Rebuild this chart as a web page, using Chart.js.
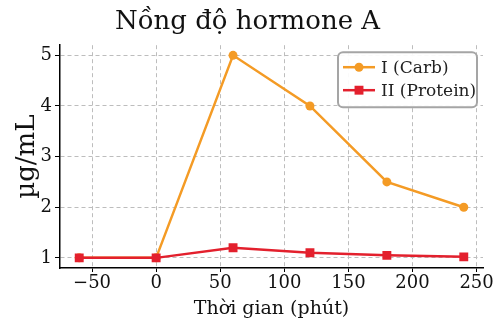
<!DOCTYPE html>
<html>
<head>
<meta charset="utf-8">
<script src="https://cdn.jsdelivr.net/npm/chart.js@4.4.1/dist/chart.umd.min.js"></script>
<style>
  html, body { margin: 0; padding: 0; background: #fff; }
  #wrap { width: 500px; height: 333px; }
</style>
</head>
<body>
<div id="wrap"><canvas id="grafico"></canvas></div>
<script>
// dados
const tempos = [-60, 0, 60, 120, 180, 240];
const carb = [1.0, 1.0, 5.0, 4.0, 2.5, 2.0];
const protein = [1.0, 1.0, 1.2, 1.1, 1.05, 1.02];
const xTicks = [-50, 0, 50, 100, 150, 200, 250];
const yTicks = [1, 2, 3, 4, 5];
const nomes = ['I (Carb)', 'II (Protein)'];
const titulo = 'Nồng độ hormone A';
const tituloX = 'Thời gian (phút)';
const tituloY = 'µg/mL';

const fonte = '"DejaVu Serif", "Liberation Serif", serif';
const laranja = '#f49b25';
const vermelho = '#e3202d';

function pontos(valores){
    let data = [];
    for(let i = 0; i < tempos.length; i++){
        data.push({x: tempos[i], y: valores[i]});
    }
    return data;
}

// legenda desenhada a mao (linha + marcador, como no original)
const legendaBox = {
    id: 'legendaBox',
    afterDraw(chart){
        const ctx = chart.ctx;
        const area = chart.chartArea;
        const w = 139, h = 55;
        const x = area.right - w - 6;
        const y = area.top + 7;
        ctx.save();
        ctx.beginPath();
        ctx.roundRect(x, y, w, h, 5);
        ctx.fillStyle = 'rgba(255,255,255,0.92)';
        ctx.fill();
        ctx.lineWidth = 2;
        ctx.strokeStyle = '#a5a5a5';
        ctx.stroke();
        chart.data.datasets.forEach((ds, i) => {
            const cy = y + 15 + i * 23;
            ctx.beginPath();
            ctx.moveTo(x + 5, cy);
            ctx.lineTo(x + 37, cy);
            ctx.strokeStyle = ds.borderColor;
            ctx.lineWidth = ds.borderWidth;
            ctx.stroke();
            ctx.fillStyle = ds.borderColor;
            Chart.helpers.drawPoint(ctx, {pointStyle: ds.pointStyle, radius: ds.pointRadius, rotation: 0, borderWidth: 0}, x + 21, cy);
            ctx.fillStyle = '#222';
            ctx.font = '17px ' + fonte;
            ctx.textBaseline = 'middle';
            ctx.textAlign = 'left';
            ctx.fillText(ds.label, x + 43, cy + 1);
        });
        ctx.restore();
    }
};

function plotaGrafico(){
    const datasets = [
        {
            label: nomes[0],
            data: pontos(carb),
            borderColor: laranja,
            backgroundColor: laranja,
            pointBackgroundColor: laranja,
            borderWidth: 2.5,
            pointStyle: 'circle',
            pointRadius: 4.5,
            pointBorderWidth: 0,
            order: 1
        },
        {
            label: nomes[1],
            data: pontos(protein),
            borderColor: vermelho,
            backgroundColor: vermelho,
            pointBackgroundColor: vermelho,
            borderWidth: 2.5,
            pointStyle: 'rect',
            pointRadius: 6.3,
            pointBorderWidth: 0,
            order: 0
        }
    ];
    const grade = {
        color: '#bdbdbd',
        lineWidth: 1,
        drawTicks: true,
        tickLength: 5,
        tickColor: '#000',
        tickBorderDash: []
    };
    const config = {
        type: 'line',
        data: { datasets: datasets },
        plugins: [legendaBox],
        options: {
            responsive: true,
            maintainAspectRatio: false,
            animation: false,
            layout: { padding: { left: 12, right: 17, top: 0, bottom: 0 } },
            plugins: {
                legend: { display: false },
                tooltip: { enabled: false },
                title: {
                    display: true,
                    text: titulo,
                    color: '#111',
                    font: { family: fonte, size: 26, weight: 'normal' },
                    padding: { top: 7, bottom: 7 }
                }
            },
            scales: {
                x: {
                    type: 'linear',
                    min: -75,
                    max: 255,
                    afterBuildTicks: (s) => { s.ticks = xTicks.map(v => ({value: v})); },
                    afterFit: (s) => { s.height = 65; },
                    grid: Object.assign({}, grade, { tickLength: 4 }),
                    border: { display: true, color: '#000', width: 1.5, dash: [4, 3] },
                    ticks: {
                        color: '#111',
                        padding: 1,
                        font: { family: fonte, size: 18 },
                        callback: (v) => String(v).replace('-', '\u2212')
                    },
                    title: {
                        display: true,
                        text: tituloX,
                        color: '#111',
                        font: { family: fonte, size: 19 },
                        padding: { top: 0, bottom: 13 }
                    }
                },
                y: {
                    type: 'linear',
                    min: 0.8,
                    max: 5.2,
                    afterBuildTicks: (s) => { s.ticks = yTicks.map(v => ({value: v})); },
                    afterFit: (s) => { s.width = 48; },
                    grid: grade,
                    border: { display: true, color: '#000', width: 1.5, dash: [4, 3] },
                    ticks: {
                        color: '#111',
                        padding: 3,
                        font: { family: fonte, size: 18 }
                    },
                    title: {
                        display: true,
                        text: tituloY,
                        color: '#111',
                        font: { family: fonte, size: 26 },
                        padding: { top: 0, bottom: 0 }
                    }
                }
            }
        }
    };
    const grafico = document.getElementById('grafico');
    return new Chart(grafico, config);
}

plotaGrafico();
</script>
</body>
</html>
